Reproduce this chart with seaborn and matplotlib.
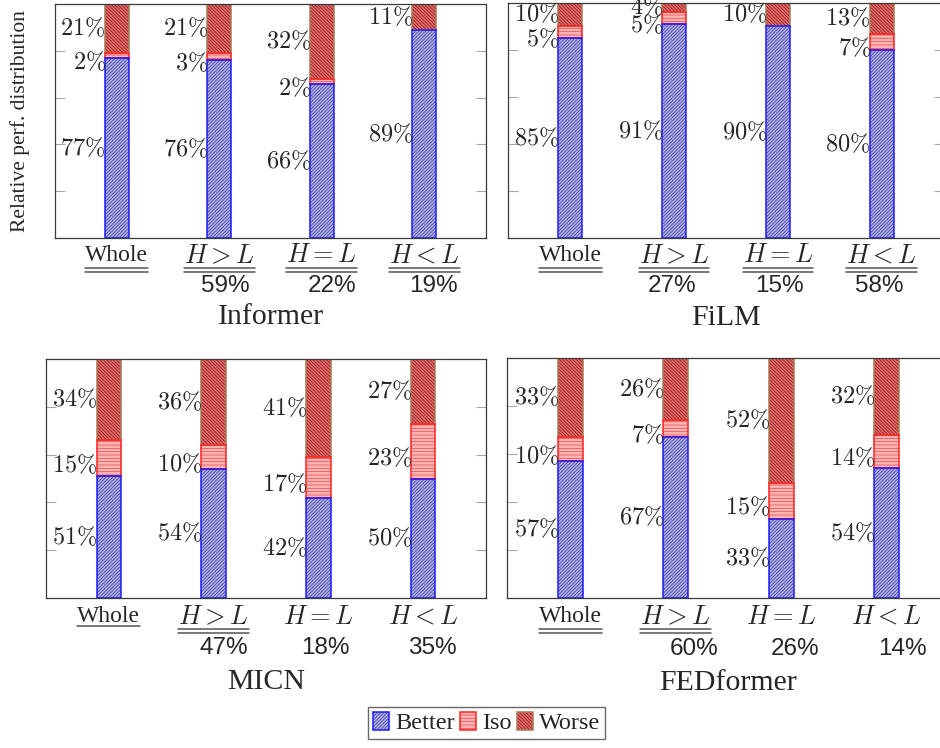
import matplotlib
matplotlib.use("Agg")
import matplotlib.pyplot as plt
from matplotlib.patches import Patch
from matplotlib.lines import Line2D
from matplotlib.legend_handler import HandlerTuple
from matplotlib.transforms import IdentityTransform
import numpy as np
import pandas as pd
import seaborn as sns

# ---------------------------------------------------------------- data
GROUPS = ["Whole", "H>L", "H=L", "H<L"]
GROUP_LABELS = ["Whole", r"$H > L$", r"$H = L$", r"$H < L$"]
SEGMENTS = ["Better", "Iso", "Worse"]
MODELS = ["Informer", "FiLM", "MICN", "FEDformer"]

INFORMER_BETTER = [77, 76, 66, 89]
INFORMER_ISO = [2, 3, 2, 0]
INFORMER_WORSE = [21, 21, 32, 11]
INFORMER_SHARE = [59, 22, 19]
INFORMER_RULES = [2, 2, 2, 2]

FILM_BETTER = [85, 91, 90, 80]
FILM_ISO = [5, 5, 0, 7]
FILM_WORSE = [10, 4, 10, 13]
FILM_SHARE = [27, 15, 58]
FILM_RULES = [2, 2, 2, 2]

MICN_BETTER = [51, 54, 42, 50]
MICN_ISO = [15, 10, 17, 23]
MICN_WORSE = [34, 36, 41, 27]
MICN_SHARE = [47, 18, 35]
MICN_RULES = [1, 2, 0, 0]

FED_BETTER = [57, 67, 33, 54]
FED_ISO = [10, 7, 15, 14]
FED_WORSE = [33, 26, 52, 32]
FED_SHARE = [60, 26, 14]
FED_RULES = [2, 2, 0, 0]

# ---------------------------------------------------------------- style
W, H = 940, 748
DPI = 100
PT = 72.0 / DPI          # points per pixel
BAR_W = 0.235

STYLE = {
    "Better": dict(fill="#b0b0f2", hatch="/" * 10, hatch_color="#36367c", edge="#1a1aff"),
    "Iso": dict(fill="#ffb4b4", hatch="-----", hatch_color="#e24a4a", edge="#ff2020"),
    "Worse": dict(fill="#f66a6a", hatch="\\" * 10, hatch_color="#5e1a1a", edge="#a47a52"),
}

SERIF = "Liberation Serif"
SANS = "Liberation Sans"

sns.set_theme(style="ticks")
plt.rcParams["font.family"] = [SERIF, "DejaVu Serif"]
plt.rcParams["mathtext.fontset"] = "cm"
plt.rcParams["hatch.linewidth"] = 0.5

fig = plt.figure(figsize=(W / DPI, H / DPI), dpi=DPI)


def px_axes(x0, y0, x1, y1):
    """Create axes from pixel box (left, top, right, bottom)."""
    return fig.add_axes([x0 / W, 1 - y1 / H, (x1 - x0) / W, (y1 - y0) / H])


panels = [
    dict(name="Informer", box=(55, 4, 486, 238),
         better=INFORMER_BETTER, iso=INFORMER_ISO, worse=INFORMER_WORSE,
         share=INFORMER_SHARE, rules=INFORMER_RULES, shift=[6, 10, 9],
         lab=18, share_y=48, title_y=79),
    dict(name="FiLM", box=(508, 3, 944, 238),
         better=FILM_BETTER, iso=FILM_ISO, worse=FILM_WORSE,
         share=FILM_SHARE, rules=FILM_RULES, shift=[-2, 2, -2],
         lab=18, share_y=48, title_y=80),
    dict(name="MICN", box=(46, 359, 486, 598),
         better=MICN_BETTER, iso=MICN_ISO, worse=MICN_WORSE,
         share=MICN_SHARE, rules=MICN_RULES, shift=[10, 7, 9],
         lab=19, share_y=50, title_y=84),
    dict(name="FEDformer", box=(507, 358, 950, 598),
         better=FED_BETTER, iso=FED_ISO, worse=FED_WORSE,
         share=FED_SHARE, rules=FED_RULES, shift=[18, 14, 16],
         lab=19, share_y=51, title_y=85),
]

underline_jobs = []

for p in panels:
    ax = px_axes(*p["box"])
    df = pd.DataFrame({"group": GROUPS, "Better": p["better"],
                       "Iso": p["iso"], "Worse": p["worse"]})
    bases = {
        "Better": np.zeros(len(df)),
        "Iso": df["Better"].to_numpy(dtype=float),
        "Worse": (df["Better"] + df["Iso"]).to_numpy(dtype=float),
    }

    # hatched fills
    for seg in SEGMENTS:
        st = STYLE[seg]
        sns.barplot(data=df, x="group", y=seg, order=GROUPS, ax=ax,
                    width=BAR_W, color=st["fill"], saturation=1,
                    errorbar=None, bottom=bases[seg], hatch=st["hatch"],
                    edgecolor=st["hatch_color"], linewidth=0)
    # outlines on top
    for seg in reversed(SEGMENTS):
        st = STYLE[seg]
        lws = [1.1 if v > 0 else 0 for v in df[seg]]
        sns.barplot(data=df, x="group", y=seg, order=GROUPS, ax=ax,
                    width=BAR_W, color=st["edge"], saturation=1, fill=False,
                    errorbar=None, bottom=bases[seg], edgecolor=st["edge"],
                    linewidth=lws)

    # value labels at the left of each segment
    for seg in SEGMENTS:
        dy = -5.0 if seg == "Iso" else 0.0
        for i, v in enumerate(df[seg]):
            if v <= 0:
                continue
            ax.annotate(rf"${v}\%$", xy=(i - BAR_W / 2, bases[seg][i] + v / 2),
                        xytext=(0.8, dy), textcoords="offset points",
                        ha="right", va="center", fontsize=17.5)

    ax.set_xlim(-0.6, 3.6)
    ax.set_ylim(0, 100)
    ax.set_xlabel("")
    ax.set_ylabel("")
    ax.set_yticks([20, 40, 60, 80])
    ax.set_yticklabels([])
    ax.tick_params(axis="y", direction="in", length=7.5, width=0.8,
                   color="#a8a8a8", left=True, right=True, labelleft=False)
    ax.tick_params(axis="x", length=0, labelbottom=False)
    for sp in ax.spines.values():
        sp.set_visible(True)
        sp.set_color("#3a3a3a")
        sp.set_linewidth(0.9)

    # category labels, share of windows, panel title
    for i, lab in enumerate(GROUP_LABELS):
        size = 17 if i == 0 else 19
        t = ax.annotate(lab, xy=(i, 0), xycoords=("data", "axes fraction"),
                        xytext=(0, -p["lab"] * PT), textcoords="offset points",
                        ha="center", va="center", fontsize=size,
                        annotation_clip=False)
        underline_jobs.append((ax, t, p["rules"][i]))
    for j, s in enumerate(p["share"]):
        ax.annotate(f"{s}%", xy=(j + 1, 0), xycoords=("data", "axes fraction"),
                    xytext=(p["shift"][j] * PT, -p["share_y"] * PT),
                    textcoords="offset points", ha="center", va="center",
                    fontsize=17.5, family=SANS, annotation_clip=False)
    ax.annotate(p["name"], xy=(0.5, 0), xycoords="axes fraction",
                xytext=(0, -p["title_y"] * PT), textcoords="offset points",
                ha="center", va="center", fontsize=21.5, annotation_clip=False)

fig.text(20 / W, 1 - 121 / H, "Relative perf. distribution", rotation=90,
         ha="center", va="center", fontsize=15.5)

# underlines (single / double rules under the category labels)
fig.canvas.draw()
renderer = fig.canvas.get_renderer()
for ax, t, n in underline_jobs:
    if n == 0:
        continue
    bb = t.get_window_extent(renderer)
    base = ax.transAxes.transform((0, 0))[1]
    offs = [28] if n == 1 else [30.5, 34.5]
    for o in offs:
        y = base - o
        fig.add_artist(Line2D([bb.x0, bb.x1], [y, y], transform=IdentityTransform(),
                              color="#555555", linewidth=1.1))

# legend
handles = []
for seg in SEGMENTS:
    st = STYLE[seg]
    handles.append((Patch(facecolor=st["fill"], hatch=st["hatch"],
                          edgecolor=st["hatch_color"], linewidth=0),
                    Patch(facecolor="none", edgecolor=st["edge"], linewidth=1.1)))
leg = fig.legend(handles=handles, labels=SEGMENTS,
                 handler_map={tuple: HandlerTuple(ndivide=1, pad=0)},
                 loc="center", bbox_to_anchor=(486.5 / W, 1 - 723 / H), ncol=3,
                 frameon=True, fancybox=False, edgecolor="#444444",
                 prop={"family": SERIF, "size": 17.5}, handlelength=0.68,
                 handleheight=0.75, handletextpad=0.25, columnspacing=0.2,
                 borderpad=0.2, borderaxespad=0)
leg.get_frame().set_linewidth(1.0)

fig.savefig("out.png", dpi=DPI)
